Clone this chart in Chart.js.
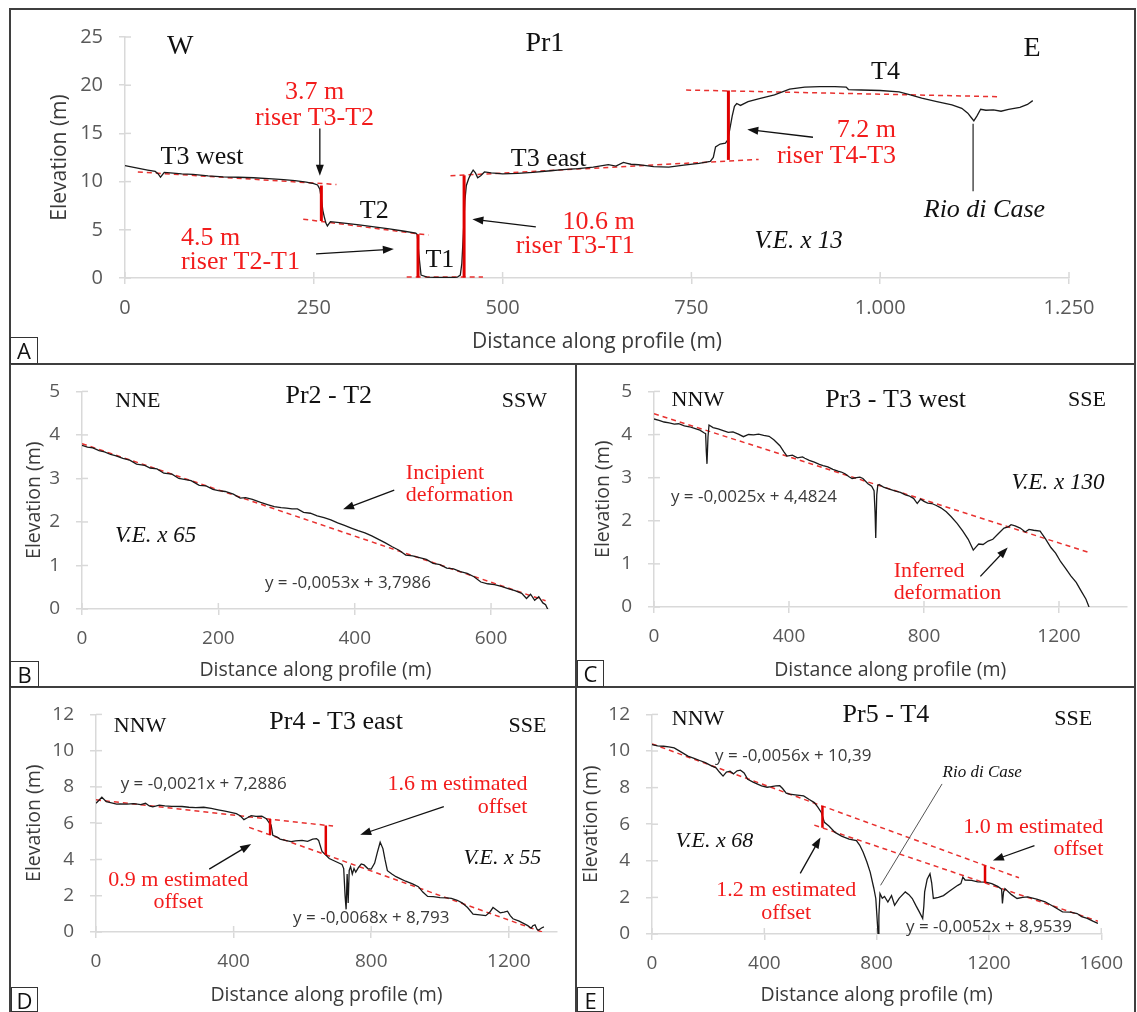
<!DOCTYPE html>
<html>
<head>
<meta charset="utf-8">
<script src="https://cdn.jsdelivr.net/npm/chart.js@4.4.0/dist/chart.umd.min.js"></script>
<style>
  body { margin: 0; background: #fff; }
  #fig { position: relative; width: 1137px; height: 1012px; overflow: hidden; }
  .panel { position: absolute; }
  .rule { position: absolute; background: #3f3f3f; }
  .tag { position: absolute; box-sizing: border-box; border: 1.5px solid #333; background: #fff;
         font: 22px "Open Sans", sans-serif; line-height: 24px; text-align: center; color: #111; }
</style>
</head>
<body>
<div id="fig">
  <div class="panel" style="left:10px;top:9px"><canvas id="chartA" width="1125" height="355"></canvas></div>
  <div class="panel" style="left:10px;top:364px"><canvas id="chartB" width="566" height="323"></canvas></div>
  <div class="panel" style="left:576px;top:364px"><canvas id="chartC" width="559" height="323"></canvas></div>
  <div class="panel" style="left:10px;top:687px"><canvas id="chartD" width="566" height="325"></canvas></div>
  <div class="panel" style="left:576px;top:687px"><canvas id="chartE" width="559" height="325"></canvas></div>

  <div class="rule" style="left:10px;top:8px;width:1126px;height:2px"></div>
  <div class="rule" style="left:9px;top:8px;width:2px;height:1004px"></div>
  <div class="rule" style="left:1134px;top:8px;width:2px;height:1004px"></div>
  <div class="rule" style="left:10px;top:363px;width:1126px;height:2px"></div>
  <div class="rule" style="left:10px;top:686px;width:1126px;height:2px"></div>
  <div class="rule" style="left:575px;top:364px;width:2px;height:648px"></div>

  <div class="tag" style="left:10px;top:337px;width:28px;height:27px">A</div>
  <div class="tag" style="left:10px;top:661px;width:29px;height:26px">B</div>
  <div class="tag" style="left:577px;top:660px;width:27px;height:27px">C</div>
  <div class="tag" style="left:11px;top:987px;width:27px;height:25px">D</div>
  <div class="tag" style="left:577px;top:987px;width:27px;height:25px">E</div>
</div>

<script>
// ---- Pr1 (panel A) ----
const pr1X = [0, 10, 20, 30, 40, 44, 47, 52, 60, 75, 90, 110, 130, 150, 170, 190, 210, 225, 240, 250,
  255, 258, 260, 262, 264, 266, 268, 272, 290, 310, 330, 350, 370, 385, 387, 389, 392, 400, 415, 430,
  440, 444, 446, 448, 450, 452, 455, 458, 461, 464, 467, 471, 476, 485, 500, 520, 540, 560, 580, 600,
  620, 640, 650, 660, 665, 670, 680, 700, 720, 740, 760, 775, 779, 782, 788, 795, 798, 801, 804, 807,
  810, 815, 825, 840, 860, 880, 900, 920, 940, 955, 958, 975, 1000, 1025, 1040, 1055, 1075, 1095, 1108, 1116,
  1121, 1124, 1128, 1133, 1140, 1150, 1160, 1170, 1185, 1195, 1202];
const pr1Y = [11.65, 11.5, 11.35, 11.2, 11.05, 10.8, 10.45, 10.95, 10.9, 10.8, 10.75, 10.6, 10.5, 10.45, 10.4, 10.3, 10.2, 10.1, 9.95, 9.8,
  9.65, 9.2, 8.2, 7.0, 6.3, 5.7, 5.4, 5.85, 5.7, 5.5, 5.3, 5.1, 4.85, 4.65, 4.5, 2.5, 0.3, 0.1, 0.05, 0.05,
  0.08, 0.3, 1.5, 4.5, 8.0, 9.6, 10.3, 10.8, 11.2, 10.9, 10.4, 10.6, 11.0, 10.9, 10.8, 10.85, 10.95, 11.1, 11.25, 11.35,
  11.5, 11.75, 11.6, 12.0, 11.9, 11.8, 11.75, 11.55, 11.5, 11.7, 11.9, 12.1, 12.5, 13.6, 13.9, 14.0, 14.3, 15.5, 16.8, 17.8,
  18.1, 17.9, 18.3, 18.6, 19.0, 19.6, 19.8, 19.85, 19.85, 19.8, 19.55, 19.5, 19.45, 19.3, 19.0, 18.65, 18.3, 17.95, 17.6, 17.1,
  16.6, 16.3, 16.8, 17.5, 17.4, 17.45, 17.3, 17.5, 17.7, 18.0, 18.4];
// terrace reference lines [x1, y1, x2, y2]
const pr1Trends = [[17, 11.0, 280, 9.7], [236, 6.1, 402, 4.45], [373, 0.1, 474, 0.1], [431, 10.6, 839, 12.3], [743, 19.5, 1160, 18.8]];
const pr1Risers = [[260, 9.6, 260, 5.9], [388, 4.55, 388, 0.05], [449, 0.05, 449, 10.65], [799, 12.25, 799, 19.45]];

// ---- Pr2 (panel B) ----
const pr2X = [0, 8, 16, 25, 33, 42, 50, 60, 70, 80, 92, 100, 110, 120, 132, 142, 150, 160, 172, 182,
  192, 200, 210, 222, 232, 240, 250, 262, 272, 282, 292, 300, 308, 316, 325, 335, 345, 355, 365, 375,
  385, 395, 405, 415, 425, 435, 445, 455, 465, 475, 485, 495, 505, 515, 525, 535, 545, 555, 565, 575,
  585, 595, 605, 615, 625, 635, 645, 652, 658, 664, 670, 676, 680, 683];
const pr2Y = [3.76, 3.72, 3.70, 3.64, 3.61, 3.55, 3.52, 3.46, 3.42, 3.33, 3.30, 3.24, 3.22, 3.12, 3.10, 3.00, 2.98, 2.95, 2.84, 2.83,
  2.75, 2.72, 2.70, 2.64, 2.55, 2.56, 2.52, 2.45, 2.40, 2.35, 2.33, 2.32, 2.30, 2.30, 2.22, 2.20, 2.14, 2.10, 2.05, 1.98,
  1.92, 1.86, 1.80, 1.75, 1.68, 1.60, 1.52, 1.43, 1.35, 1.24, 1.22, 1.18, 1.14, 1.05, 1.02, 0.94, 0.92, 0.86, 0.82, 0.74,
  0.62, 0.58, 0.56, 0.52, 0.47, 0.42, 0.36, 0.24, 0.34, 0.20, 0.28, 0.14, 0.10, 0.0];
const pr2Trends = [[0, 3.7986, 680, 0.19]];

// ---- Pr3 (panel C) ----
const pr3X = [0, 15, 30, 45, 60, 73, 90, 105, 120, 136, 148, 153, 155, 157, 160, 163, 175, 190, 205, 220,
  234, 250, 265, 280, 295, 310, 325, 341, 355, 373, 385, 394, 410, 425, 440, 447, 460, 475, 490, 501,
  515, 530, 545, 555, 566, 578, 587, 600, 610, 619, 634, 645, 652, 655, 657, 660, 663, 667, 680, 695,
  716, 730, 745, 755, 769, 780, 790, 800, 811, 823, 835, 850, 866, 880, 898, 915, 931, 946, 955, 962,
  975, 990, 1004, 1020, 1037, 1050, 1058, 1070, 1085, 1100, 1111, 1125, 1144, 1160, 1176, 1190, 1205, 1219, 1235, 1251,
  1265, 1280, 1289];
const pr3Y = [4.36, 4.33, 4.29, 4.27, 4.24, 4.25, 4.20, 4.18, 4.14, 4.10, 4.04, 4.02, 3.60, 3.32, 3.95, 4.22, 4.16, 4.13, 4.09, 4.05,
  4.06, 4.01, 3.95, 4.00, 3.99, 4.01, 3.98, 3.96, 3.88, 3.74, 3.60, 3.50, 3.52, 3.46, 3.48, 3.45, 3.40, 3.36, 3.31, 3.28,
  3.25, 3.19, 3.15, 3.13, 3.09, 3.02, 2.98, 3.00, 3.01, 2.98, 2.86, 2.80, 2.70, 2.20, 1.60, 2.60, 2.82, 2.84, 2.78, 2.74,
  2.69, 2.66, 2.60, 2.58, 2.52, 2.40, 2.50, 2.45, 2.41, 2.40, 2.36, 2.30, 2.21, 2.10, 1.94, 1.76, 1.57, 1.32, 1.40, 1.46,
  1.45, 1.53, 1.57, 1.70, 1.83, 1.86, 1.91, 1.88, 1.83, 1.74, 1.80, 1.78, 1.76, 1.58, 1.38, 1.25, 1.05, 0.90, 0.72, 0.57,
  0.38, 0.18, 0.0];
const pr3Trends = [[0, 4.4824, 1294, 1.25]];

// ---- Pr4 (panel D) ----
const pr4X = [0, 8, 17, 30, 45, 60, 70, 90, 110, 130, 144, 155, 165, 184, 200, 220, 250, 270, 290, 313,
  335, 355, 375, 395, 408, 420, 430, 440, 451, 465, 482, 495, 505, 509, 514, 525, 535, 550, 567, 580,
  599, 615, 630, 641, 647, 657, 668, 678, 695, 715, 720, 724, 727, 730, 733, 736, 740, 745, 750, 755,
  763, 771, 779, 790, 800, 810, 818, 826, 834, 840, 847, 860, 872, 884, 900, 920, 937, 950, 964, 980,
  1000, 1020, 1033, 1050, 1064, 1080, 1096, 1115, 1133, 1145, 1154, 1165, 1175, 1186, 1196, 1204, 1212, 1230, 1244, 1255,
  1265, 1270, 1276, 1282, 1286, 1295, 1302];
const pr4Y = [7.10, 7.25, 7.43, 7.19, 7.12, 7.05, 7.06, 7.05, 7.08, 7.03, 7.10, 6.95, 6.90, 7.00, 6.96, 6.93, 6.92, 6.88, 6.86, 6.88,
  6.82, 6.74, 6.66, 6.58, 6.53, 6.40, 6.20, 6.30, 6.42, 6.38, 6.39, 6.25, 5.98, 5.90, 5.33, 5.25, 5.12, 5.05, 4.98, 5.02,
  5.05, 5.00, 5.12, 5.15, 5.05, 4.44, 4.25, 4.05, 3.90, 3.73, 3.50, 2.00, 1.25, 3.20, 1.60, 3.40, 3.60, 3.20, 3.50, 3.30,
  3.56, 3.75, 3.70, 3.50, 3.47, 3.80, 4.40, 4.95, 4.60, 4.00, 3.38, 3.20, 3.05, 2.94, 2.80, 2.65, 2.50, 2.20, 1.96, 1.95,
  1.90, 1.88, 1.86, 1.75, 1.61, 1.35, 0.99, 0.95, 0.90, 1.10, 1.35, 1.20, 1.06, 1.10, 1.15, 0.90, 0.73, 0.60, 0.46, 0.35,
  0.21, 0.35, 0.40, 0.15, 0.10, 0.22, 0.28];
const pr4Trends = [[0, 7.2886, 689, 5.84], [445, 5.77, 1297, 0.0]];
const pr4Risers = [[506, 6.23, 506, 5.35], [668, 5.88, 668, 4.25]];

// ---- Pr5 (panel E) ----
const pr5X = [0, 20, 41, 60, 79, 100, 128, 150, 170, 190, 210, 228, 240, 253, 265, 278, 290, 303, 315, 328,
  341, 360, 390, 410, 425, 441, 455, 465, 478, 490, 510, 540, 560, 578, 590, 603, 614, 630, 652, 675,
  702, 728, 740, 752, 765, 777, 790, 797, 801, 805, 808, 812, 820, 828, 840, 853, 864, 880, 902, 915,
  927, 940, 952, 964, 968, 971, 980, 990, 996, 1002, 1020, 1038, 1060, 1089, 1100, 1107, 1115, 1138, 1160, 1189,
  1210, 1231, 1245, 1248, 1252, 1257, 1280, 1300, 1320, 1338, 1370, 1400, 1430, 1462, 1490, 1514, 1530, 1550, 1570, 1588];
const pr5Y = [10.35, 10.28, 10.26, 10.22, 10.17, 9.98, 9.72, 9.60, 9.48, 9.36, 9.20, 9.08, 8.85, 8.63, 8.85, 8.90, 8.75, 8.92, 8.95, 8.80,
  8.45, 8.30, 8.09, 8.02, 8.05, 8.09, 8.10, 7.95, 7.70, 7.64, 7.60, 7.55, 7.35, 7.18, 6.95, 6.64, 6.10, 5.90, 5.55, 5.35,
  5.19, 5.10, 4.85, 4.47, 3.95, 3.38, 2.50, 1.94, 1.00, 0.00, 1.00, 2.21, 1.95, 2.05, 1.75, 2.10, 1.57, 1.95, 2.30, 2.15,
  1.94, 1.55, 1.21, 0.85, 1.50, 2.30, 3.00, 3.29, 2.80, 1.94, 2.00, 2.10, 2.35, 2.66, 2.75, 3.11, 2.95, 2.93, 2.85, 2.84,
  2.75, 2.60, 2.45, 1.67, 2.30, 2.48, 2.15, 1.94, 2.00, 2.03, 1.90, 1.76, 1.50, 1.21, 1.20, 1.12, 0.95, 0.85, 0.70, 0.58];
const pr5Trends = [[0, 10.39, 1307, 3.07], [578, 5.95, 1588, 0.70]];
const pr5Risers = [[607, 6.99, 607, 5.80], [1186, 3.75, 1186, 2.79]];

// axis ticks
const ticksA = { x: [0, 250, 500, 750, 1000, 1250], y: [0, 5, 10, 15, 20, 25] };
const ticksB = { x: [0, 200, 400, 600], y: [0, 1, 2, 3, 4, 5] };
const ticksC = { x: [0, 400, 800, 1200], y: [0, 1, 2, 3, 4, 5] };
const ticksD = { x: [0, 400, 800, 1200], y: [0, 2, 4, 6, 8, 10, 12] };
const ticksE = { x: [0, 400, 800, 1200, 1600], y: [0, 2, 4, 6, 8, 10, 12] };

const RED = '#f21c1c';
const DASH_RED = '#e8312f';
const SERIF = '"Liberation Serif", "Times New Roman", serif';
const SANS = '"Open Sans", sans-serif';

function pts(xs, ys) { return xs.map((x, i) => ({ x: x, y: ys[i] })); }
function seg(s) { return [{ x: s[0], y: s[1] }, { x: s[2], y: s[3] }]; }
function thousands(v) { return String(v).replace(/\B(?=(\d{3})+(?!\d))/g, '.'); }

function buildDatasets(profile, trends, risers, riserWidth) {
  const ds = [];
  (risers || []).forEach(r => ds.push({ data: seg(r), borderColor: '#e00000', borderWidth: riserWidth, pointRadius: 0 }));
  ds.push({ data: profile, borderColor: '#1a1a1a', borderWidth: 1.3, pointRadius: 0, tension: 0 });
  trends.forEach(t => ds.push({ data: seg(t), borderColor: DASH_RED, borderWidth: 1.5, borderDash: [5, 4], pointRadius: 0 }));
  return ds;
}

// text / arrow overlay drawn in data coordinates
function overlay(notes) {
  return {
    id: 'overlay',
    beforeDatasetsDraw(chart) {
      const { ctx, chartArea: a, scales: { x, y } } = chart;
      ctx.save();
      ctx.strokeStyle = '#d9d9d9';
      ctx.lineWidth = 1.5;
      x.ticks.forEach(t => {
        const p = x.getPixelForValue(t.value);
        ctx.beginPath(); ctx.moveTo(p, a.bottom); ctx.lineTo(p, a.bottom - 6); ctx.stroke();
      });
      y.ticks.forEach(t => {
        const p = y.getPixelForValue(t.value);
        ctx.beginPath(); ctx.moveTo(a.left, p); ctx.lineTo(a.left + 6, p); ctx.stroke();
      });
      ctx.restore();
    },
    afterDraw(chart) {
      const { ctx, scales: { x, y } } = chart;
      ctx.save();
      (notes.lines || []).forEach(l => {
        ctx.strokeStyle = l.color || '#333';
        ctx.lineWidth = l.width || 1.2;
        ctx.beginPath();
        ctx.moveTo(x.getPixelForValue(l.p[0]), y.getPixelForValue(l.p[1]));
        ctx.lineTo(x.getPixelForValue(l.p[2]), y.getPixelForValue(l.p[3]));
        ctx.stroke();
      });
      (notes.arrows || []).forEach(p => {
        const x1 = x.getPixelForValue(p[0]), y1 = y.getPixelForValue(p[1]);
        const x2 = x.getPixelForValue(p[2]), y2 = y.getPixelForValue(p[3]);
        const ang = Math.atan2(y2 - y1, x2 - x1);
        ctx.strokeStyle = '#111';
        ctx.fillStyle = '#111';
        ctx.lineWidth = 1.3;
        ctx.beginPath();
        ctx.moveTo(x1, y1);
        ctx.lineTo(x2 - 8 * Math.cos(ang), y2 - 8 * Math.sin(ang));
        ctx.stroke();
        ctx.beginPath();
        ctx.moveTo(x2, y2);
        ctx.lineTo(x2 - 11 * Math.cos(ang) + 4 * Math.sin(ang), y2 - 11 * Math.sin(ang) - 4 * Math.cos(ang));
        ctx.lineTo(x2 - 11 * Math.cos(ang) - 4 * Math.sin(ang), y2 - 11 * Math.sin(ang) + 4 * Math.cos(ang));
        ctx.closePath();
        ctx.fill();
      });
      ctx.textBaseline = 'middle';
      (notes.texts || []).forEach(t => {
        ctx.font = t.font;
        ctx.fillStyle = t.color || '#111';
        ctx.textAlign = t.align || 'center';
        ctx.fillText(t.text, x.getPixelForValue(t.x), y.getPixelForValue(t.y));
      });
      ctx.restore();
    }
  };
}

function profileChart(id, cfg) {
  const tickFont = { family: SANS, size: cfg.tickSize };
  const titleFont = { family: SANS, size: cfg.titleSize };
  return new Chart(document.getElementById(id), {
    type: 'line',
    data: { datasets: cfg.datasets },
    options: {
      responsive: false,
      animation: false,
      layout: { padding: { left: 0, top: cfg.top, right: cfg.right, bottom: 0 } },
      plugins: { legend: { display: false }, tooltip: { enabled: false } },
      scales: {
        x: {
          type: 'linear', min: 0, max: cfg.xMax,
          afterFit: s => { s.height = cfg.bottom; },
          afterBuildTicks: s => { s.ticks = cfg.ticks.x.map(v => ({ value: v })); },
          ticks: { font: tickFont, color: '#595959', padding: 12, maxRotation: 0, autoSkip: false,
                   callback: v => (cfg.dotThousands ? thousands(v) : String(v)) },
          grid: { drawOnChartArea: false, tickLength: 6, color: '#d9d9d9', lineWidth: 1.5 },
          border: { color: '#d9d9d9', width: 1.5 },
          title: { display: true, text: 'Distance along profile (m)', font: titleFont, color: '#3a3a3a',
                   padding: { top: 0, bottom: cfg.xTitlePad } }
        },
        y: {
          type: 'linear', min: 0, max: cfg.yMax,
          afterFit: s => { s.width = cfg.left; },
          afterBuildTicks: s => { s.ticks = cfg.ticks.y.map(v => ({ value: v })); },
          ticks: { font: tickFont, color: '#595959', padding: 16 },
          grid: { drawOnChartArea: false, tickLength: 6, color: '#d9d9d9', lineWidth: 1.5 },
          border: { color: '#d9d9d9', width: 1.5 },
          title: { display: true, text: 'Elevation (m)', font: titleFont, color: '#3a3a3a',
                   padding: { top: cfg.yTitlePad, bottom: 0 } }
        }
      }
    },
    plugins: [overlay(cfg.notes)]
  });
}

const big = sz => sz + 'px ' + SERIF;
const ital = sz => 'italic ' + sz + 'px ' + SERIF;
const eqFont = '17px ' + SANS;

profileChart('chartA', {
  datasets: buildDatasets(pts(pr1X, pr1Y), pr1Trends, pr1Risers, 3),
  xMax: 1250, yMax: 25, ticks: ticksA, dotThousands: true, left: 115, top: 19, right: 66, bottom: 86,
  tickSize: 20, titleSize: 21, xTitlePad: 9, yTitlePad: 37,
  notes: {
    lines: [{ p: [1123, 16.0, 1123, 9.0], color: '#333', width: 1.3 }],
    arrows: [[258, 15.5, 258, 10.6], [253, 2.5, 356, 3.0], [544, 5.3, 460, 6.1], [911, 14.6, 824, 15.4]],
    texts: [
      { text: 'W', x: 73, y: 24.0, font: big(28) },
      { text: 'Pr1', x: 556, y: 24.3, font: big(28) },
      { text: 'E', x: 1201, y: 23.8, font: big(28) },
      { text: 'T4', x: 1007, y: 21.3, font: big(26) },
      { text: '3.7 m', x: 251, y: 19.3, font: big(26), color: RED },
      { text: 'riser T3-T2', x: 251, y: 16.6, font: big(26), color: RED },
      { text: 'T3 west', x: 102, y: 12.5, font: big(26) },
      { text: 'T2', x: 330, y: 6.9, font: big(26) },
      { text: '4.5 m', x: 74, y: 4.1, font: big(26), color: RED, align: 'left' },
      { text: 'riser T2-T1', x: 74, y: 1.6, font: big(26), color: RED, align: 'left' },
      { text: 'T1', x: 417, y: 1.8, font: big(26) },
      { text: 'T3 east', x: 561, y: 12.3, font: big(26) },
      { text: '10.6 m', x: 675, y: 5.8, font: big(26), color: RED, align: 'right' },
      { text: 'riser T3-T1', x: 675, y: 3.3, font: big(26), color: RED, align: 'right' },
      { text: '7.2 m', x: 1021, y: 15.3, font: big(26), color: RED, align: 'right' },
      { text: 'riser T4-T3', x: 1021, y: 12.6, font: big(26), color: RED, align: 'right' },
      { text: 'Rio di Case', x: 1138, y: 7.0, font: ital(26) },
      { text: 'V.E. x 13', x: 892, y: 3.8, font: ital(25) }
    ]
  }
});

profileChart('chartB', {
  datasets: buildDatasets(pts(pr2X, pr2Y), pr2Trends, [], 3),
  xMax: 685, yMax: 5, ticks: ticksB, left: 72, top: 18, right: 27, bottom: 78,
  tickSize: 19, titleSize: 19.5, xTitlePad: 5, yTitlePad: 13,
  notes: {
    arrows: [[458, 2.73, 383, 2.29]],
    texts: [
      { text: 'NNE', x: 82, y: 4.78, font: big(22) },
      { text: 'Pr2 - T2', x: 362, y: 4.89, font: big(26) },
      { text: 'SSW', x: 649, y: 4.78, font: big(22) },
      { text: 'Incipient', x: 475, y: 3.11, font: big(22), color: RED, align: 'left' },
      { text: 'deformation', x: 475, y: 2.62, font: big(22), color: RED, align: 'left' },
      { text: 'V.E. x 65', x: 108, y: 1.67, font: ital(23) },
      { text: 'y = -0,0053x + 3,7986', x: 390, y: 0.59, font: eqFont, color: '#3a3a3a' }
    ]
  }
});

profileChart('chartC', {
  datasets: buildDatasets(pts(pr3X, pr3Y), pr3Trends, [], 3),
  xMax: 1400, yMax: 5, ticks: ticksC, left: 78, top: 19, right: 8.5, bottom: 80,
  tickSize: 19, titleSize: 19.5, xTitlePad: 5, yTitlePad: 16,
  notes: {
    arrows: [[967, 0.71, 1048, 1.38]],
    texts: [
      { text: 'NNW', x: 130, y: 4.80, font: big(22) },
      { text: 'Pr3 - T3 west', x: 716, y: 4.80, font: big(26) },
      { text: 'SSE', x: 1283, y: 4.80, font: big(22) },
      { text: 'V.E. x 130', x: 1197, y: 2.88, font: ital(23) },
      { text: 'y = -0,0025x + 4,4824', x: 296, y: 2.54, font: eqFont, color: '#3a3a3a' },
      { text: 'Inferred', x: 710, y: 0.83, font: big(22), color: RED, align: 'left' },
      { text: 'deformation', x: 710, y: 0.31, font: big(22), color: RED, align: 'left' }
    ]
  }
});

profileChart('chartD', {
  datasets: buildDatasets(pts(pr4X, pr4Y), pr4Trends, pr4Risers, 2.5),
  xMax: 1340, yMax: 12, ticks: ticksD, left: 86, top: 19, right: 19, bottom: 80,
  tickSize: 19, titleSize: 19.5, xTitlePad: 5, yTitlePad: 13,
  notes: {
    arrows: [[1011, 6.92, 768, 5.36], [329, 3.47, 451, 4.85]],
    texts: [
      { text: 'NNW', x: 128, y: 11.36, font: big(22) },
      { text: 'Pr4 - T3 east', x: 698, y: 11.58, font: big(26) },
      { text: 'SSE', x: 1254, y: 11.36, font: big(22) },
      { text: 'y = -0,0021x + 7,2886', x: 313, y: 8.13, font: eqFont, color: '#3a3a3a' },
      { text: '1.6 m estimated', x: 1254, y: 8.13, font: big(22), color: RED, align: 'right' },
      { text: 'offset', x: 1254, y: 6.90, font: big(22), color: RED, align: 'right' },
      { text: '0.9 m estimated', x: 239, y: 2.87, font: big(22), color: RED },
      { text: 'offset', x: 239, y: 1.65, font: big(22), color: RED },
      { text: 'V.E. x 55', x: 1181, y: 4.09, font: ital(22) },
      { text: 'y = -0,0068x + 8,793', x: 800, y: 0.74, font: eqFont, color: '#3a3a3a' }
    ]
  }
});

profileChart('chartE', {
  datasets: buildDatasets(pts(pr5X, pr5Y), pr5Trends, pr5Risers, 2.5),
  xMax: 1600, yMax: 12, ticks: ticksE, left: 76, top: 26, right: 19, bottom: 78,
  tickSize: 19, titleSize: 19.5, xTitlePad: 5, yTitlePad: 4,
  notes: {
    lines: [{ p: [1033, 8.2, 814, 2.66], color: '#555', width: 1 }],
    arrows: [[1362, 4.83, 1214, 4.02], [528, 3.31, 600, 5.28]],
    texts: [
      { text: 'NNW', x: 164, y: 11.73, font: big(22) },
      { text: 'Pr5 - T4', x: 833, y: 11.94, font: big(26) },
      { text: 'SSE', x: 1500, y: 11.73, font: big(22) },
      { text: 'y = -0,0056x + 10,39', x: 503, y: 9.72, font: eqFont, color: '#3a3a3a' },
      { text: 'Rio di Case', x: 1176, y: 8.85, font: ital(17) },
      { text: 'V.E. x 68', x: 222, y: 5.05, font: ital(22) },
      { text: '1.0 m estimated', x: 1607, y: 5.81, font: big(22), color: RED, align: 'right' },
      { text: 'offset', x: 1607, y: 4.61, font: big(22), color: RED, align: 'right' },
      { text: '1.2 m estimated', x: 478, y: 2.39, font: big(22), color: RED },
      { text: 'offset', x: 478, y: 1.14, font: big(22), color: RED },
      { text: 'y = -0,0052x + 8,9539', x: 1200, y: 0.38, font: eqFont, color: '#3a3a3a' }
    ]
  }
});
</script>
</body>
</html>
